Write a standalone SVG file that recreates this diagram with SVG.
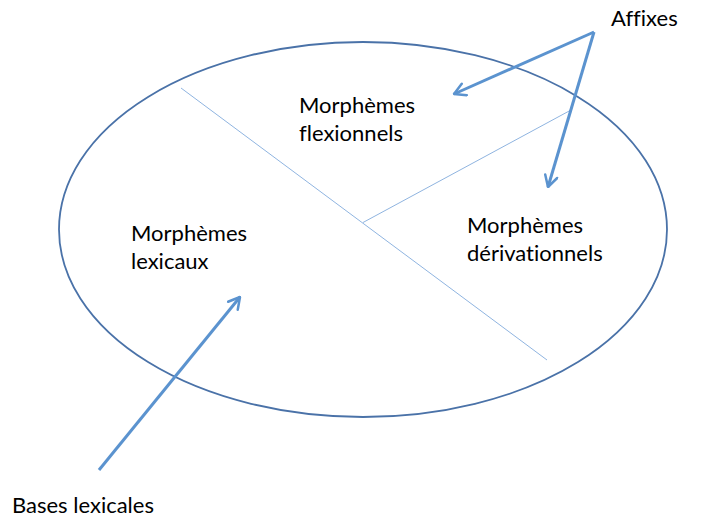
<svg xmlns="http://www.w3.org/2000/svg" width="721" height="530" viewBox="0 0 721 530">
<style>
.lbl{font-family:"Lato","Liberation Sans",sans-serif;font-size:22px;fill:#000;font-variant-ligatures:none}
.div{stroke:#8fb4e0;stroke-width:1;fill:none}
.arr{stroke:#5b93cf;stroke-width:3;fill:none;marker-end:url(#chev)}
</style>
<defs>
<marker id="chev" viewBox="0 0 12 12" refX="11" refY="6" markerWidth="5" markerHeight="5" orient="auto" markerUnits="strokeWidth">
<polyline points="2,1 11,6 2,11" fill="none" stroke="#5b93cf" stroke-width="2" stroke-linecap="round" stroke-linejoin="round"/>
</marker>
</defs>
<rect width="721" height="530" fill="#fff"/>
<g id="ellipse">
<ellipse cx="363" cy="229.5" rx="304" ry="187.5" fill="none" stroke="#4a72a8" stroke-width="1.8"/>
</g>
<g id="dividers">
<line class="div" x1="181" y1="88" x2="547" y2="360"/>
<line class="div" x1="363" y1="222.5" x2="571" y2="110"/>
</g>
<g id="flexionnels"><text class="lbl" x="299" y="113">Morphèmes</text><text class="lbl" x="299" y="141">flexionnels</text></g>
<g id="lexicaux"><text class="lbl" x="131" y="241">Morphèmes</text><text class="lbl" x="131" y="269">lexicaux</text></g>
<g id="derivationnels"><text class="lbl" x="467" y="233">Morphèmes</text><text class="lbl" x="467" y="261">dérivationnels</text></g>
<g id="affixes"><text class="lbl" x="611" y="26">Affixes</text></g>
<g id="bases"><text class="lbl" x="12" y="513">Bases lexicales</text></g>
<g id="connectors">
<line class="arr" x1="594" y1="32" x2="454" y2="94"/>
<line class="arr" x1="594" y1="32" x2="548" y2="187"/>
<line class="arr" x1="99" y1="470" x2="240" y2="297"/>
</g>
</svg>
